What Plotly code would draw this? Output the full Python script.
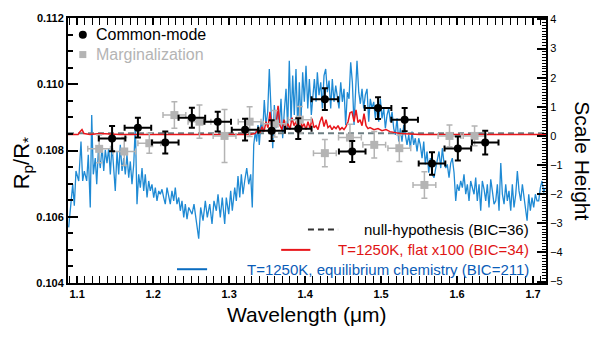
import plotly.graph_objects as go

# --- Binned transit depths: common-mode correction ---
cm_wl = [1.146, 1.180, 1.216, 1.251, 1.285, 1.321, 1.356, 1.391,
         1.426, 1.462, 1.496, 1.531, 1.567, 1.601, 1.637]
cm_rp = [0.10836, 0.10869, 0.10824, 0.10899, 0.10887, 0.10863, 0.10860, 0.10866,
         0.10955, 0.10797, 0.10928, 0.10893, 0.10761, 0.10806, 0.10824]
cm_err = [0.00038, 0.00030, 0.00033, 0.00030, 0.00030, 0.00033, 0.00031, 0.00031,
          0.00033, 0.00032, 0.00033, 0.00035, 0.00034, 0.00036, 0.00036]
cm_bin = [0.0175] * 15

# --- Binned transit depths: marginalization ---
mg_wl = [1.129, 1.162, 1.195, 1.228, 1.261, 1.294, 1.327, 1.360,
         1.393, 1.426, 1.459, 1.491, 1.524, 1.557, 1.590, 1.623]
mg_rp = [0.10805, 0.10797, 0.10822, 0.10907, 0.10887, 0.10844, 0.10887, 0.10881,
         0.10893, 0.10792, 0.10839, 0.10817, 0.10807, 0.10696, 0.10844, 0.10844]
mg_err = [0.00042, 0.00042, 0.00030, 0.00040, 0.00050, 0.00080, 0.00045, 0.00040,
          0.00040, 0.00041, 0.00040, 0.00040, 0.00040, 0.00040, 0.00033, 0.00030]
mg_bin = [0.015] * 16

# --- Null hypothesis (flat spectrum) ---
null_wl = [1.088, 1.717]
null_rp = [0.10852, 0.10852]

# --- T=1250K, flat x100 model ---
flat_wl = [1.0880, 1.1012, 1.1038, 1.1064, 1.1091, 1.1169, 1.1301, 1.1564, 1.1959, 1.2617,
           1.3275, 1.3341, 1.3380, 1.3407, 1.3433, 1.3459, 1.3486, 1.3512, 1.3538, 1.3565,
           1.3591, 1.3617, 1.3644, 1.3670, 1.3696, 1.3723, 1.3749, 1.3775, 1.3801, 1.3828,
           1.3854, 1.3880, 1.3907, 1.3933, 1.3959, 1.3986, 1.4012, 1.4038, 1.4065, 1.4091,
           1.4117, 1.4144, 1.4170, 1.4196, 1.4222, 1.4249, 1.4275, 1.4301, 1.4328, 1.4354,
           1.4380, 1.4407, 1.4433, 1.4459, 1.4486, 1.4512, 1.4538, 1.4565, 1.4591, 1.4617,
           1.4644, 1.4670, 1.4696, 1.4723, 1.4749, 1.4775, 1.4802, 1.4828, 1.4854, 1.4907,
           1.4959, 1.5012, 1.5065, 1.5117, 1.5183, 1.5249, 1.5512, 1.6039, 1.6565, 1.7171]
flat_rp = [0.10848, 0.10848, 0.10857, 0.10863, 0.10851, 0.10848, 0.10851, 0.10848, 0.10848, 0.10848,
           0.10848, 0.10851, 0.10863, 0.10854, 0.10872, 0.10857, 0.10887, 0.10869, 0.10917, 0.10866,
           0.10893, 0.10872, 0.10935, 0.10875, 0.10863, 0.10893, 0.10869, 0.10881, 0.10863, 0.10899,
           0.10875, 0.10887, 0.10866, 0.10905, 0.10869, 0.10881, 0.10863, 0.10887, 0.10866, 0.10896,
           0.10869, 0.10875, 0.10863, 0.10887, 0.10902, 0.10872, 0.10893, 0.10869, 0.10875, 0.10863,
           0.10872, 0.10866, 0.10875, 0.10863, 0.10869, 0.10863, 0.10872, 0.10887, 0.10914, 0.10917,
           0.10887, 0.10923, 0.10884, 0.10893, 0.10875, 0.10911, 0.10875, 0.10866, 0.10869, 0.10863,
           0.10866, 0.10860, 0.10863, 0.10857, 0.10854, 0.10851, 0.10848, 0.10848, 0.10848, 0.10848]

# --- T=1250K, equilibrium chemistry model ---
eq_wl = [1.0889, 1.0942, 1.0963, 1.0985, 1.1021, 1.1051, 1.1073, 1.1095, 1.1126, 1.1147,
         1.1173, 1.1192, 1.1213, 1.1239, 1.1258, 1.1279, 1.1305, 1.1328, 1.1350, 1.1371,
         1.1393, 1.1416, 1.1437, 1.1459, 1.1481, 1.1502, 1.1525, 1.1547, 1.1568, 1.1591,
         1.1613, 1.1634, 1.1656, 1.1679, 1.1700, 1.1722, 1.1745, 1.1766, 1.1788, 1.1810,
         1.1832, 1.1854, 1.1876, 1.1897, 1.1920, 1.1942, 1.1963, 1.1985, 1.2008, 1.2029,
         1.2051, 1.2074, 1.2095, 1.2117, 1.2139, 1.2160, 1.2183, 1.2205, 1.2226, 1.2248,
         1.2271, 1.2292, 1.2314, 1.2337, 1.2358, 1.2380, 1.2403, 1.2424, 1.2446, 1.2469,
         1.2512, 1.2538, 1.2568, 1.2600, 1.2626, 1.2657, 1.2687, 1.2713, 1.2745, 1.2775,
         1.2801, 1.2832, 1.2854, 1.2884, 1.2910, 1.2942, 1.2963, 1.2995, 1.3021, 1.3042,
         1.3074, 1.3095, 1.3117, 1.3140, 1.3161, 1.3183, 1.3205, 1.3232, 1.3258, 1.3284,
         1.3305, 1.3324, 1.3345, 1.3363, 1.3380, 1.3397, 1.3420, 1.3442, 1.3463, 1.3485,
         1.3508, 1.3529, 1.3551, 1.3574, 1.3595, 1.3617, 1.3640, 1.3661, 1.3683, 1.3705,
         1.3726, 1.3749, 1.3771, 1.3792, 1.3815, 1.3837, 1.3858, 1.3880, 1.3903, 1.3924,
         1.3946, 1.3968, 1.3990, 1.4012, 1.4035, 1.4056, 1.4082, 1.4122, 1.4144, 1.4161,
         1.4183, 1.4206, 1.4227, 1.4249, 1.4271, 1.4293, 1.4315, 1.4337, 1.4358, 1.4380,
         1.4403, 1.4424, 1.4446, 1.4469, 1.4490, 1.4512, 1.4534, 1.4556, 1.4578, 1.4600,
         1.4622, 1.4644, 1.4666, 1.4683, 1.4706, 1.4727, 1.4749, 1.4771, 1.4792, 1.4815,
         1.4837, 1.4858, 1.4880, 1.4903, 1.4924, 1.4946, 1.4969, 1.4990, 1.5012, 1.5035,
         1.5056, 1.5078, 1.5100, 1.5122, 1.5144, 1.5166, 1.5187, 1.5210, 1.5232, 1.5253,
         1.5275, 1.5298, 1.5319, 1.5341, 1.5364, 1.5385, 1.5407, 1.5429, 1.5450, 1.5473,
         1.5495, 1.5516, 1.5539, 1.5561, 1.5582, 1.5604, 1.5627, 1.5648, 1.5670, 1.5697,
         1.5719, 1.5740, 1.5762, 1.5785, 1.5806, 1.5828, 1.5851, 1.5871, 1.5894, 1.5916,
         1.5937, 1.5960, 1.5982, 1.6003, 1.6025, 1.6048, 1.6069, 1.6091, 1.6114, 1.6135,
         1.6157, 1.6179, 1.6201, 1.6223, 1.6245, 1.6266, 1.6289, 1.6311, 1.6332, 1.6355,
         1.6377, 1.6398, 1.6420, 1.6443, 1.6464, 1.6486, 1.6509, 1.6530, 1.6552, 1.6575,
         1.6596, 1.6618, 1.6640, 1.6661, 1.6683, 1.6706, 1.6727, 1.6749, 1.6772, 1.6793,
         1.6815, 1.6838, 1.6859, 1.6881, 1.6904, 1.6921, 1.6943, 1.6964, 1.6986, 1.7008,
         1.7030, 1.7052, 1.7074, 1.7096, 1.7118, 1.7140, 1.7161]
eq_rp = [0.10568, 0.10698, 0.10633, 0.10738, 0.10708, 0.10827, 0.10708, 0.10738, 0.10708, 0.10787,
         0.10628, 0.10907, 0.10728, 0.10777, 0.10698, 0.10797, 0.10747, 0.10812, 0.10738, 0.10802,
         0.10762, 0.10807, 0.10728, 0.10817, 0.10747, 0.10678, 0.10797, 0.10728, 0.10817, 0.10738,
         0.10777, 0.10728, 0.10787, 0.10718, 0.10767, 0.10698, 0.10758, 0.10877, 0.10638, 0.10728,
         0.10688, 0.10747, 0.10678, 0.10728, 0.10658, 0.10708, 0.10678, 0.10698, 0.10658, 0.10688,
         0.10648, 0.10678, 0.10668, 0.10683, 0.10658, 0.10638, 0.10688, 0.10658, 0.10638, 0.10678,
         0.10648, 0.10688, 0.10638, 0.10658, 0.10618, 0.10648, 0.10598, 0.10638, 0.10593, 0.10628,
         0.10608, 0.10638, 0.10588, 0.10534, 0.10628, 0.10588, 0.10648, 0.10598, 0.10638, 0.10578,
         0.10648, 0.10618, 0.10668, 0.10598, 0.10658, 0.10578, 0.10658, 0.10608, 0.10678, 0.10618,
         0.10688, 0.10648, 0.10723, 0.10658, 0.10728, 0.10668, 0.10708, 0.10747, 0.10698, 0.10728,
         0.10628, 0.10817, 0.10857, 0.10827, 0.10877, 0.10817, 0.10887, 0.10857, 0.10952, 0.10877,
         0.10917, 0.11046, 0.10927, 0.10807, 0.10937, 0.10867, 0.10927, 0.10877, 0.10956, 0.10837,
         0.10917, 0.10986, 0.10867, 0.11071, 0.10887, 0.11026, 0.10907, 0.11046, 0.10867, 0.11006,
         0.10887, 0.11036, 0.10947, 0.11056, 0.10927, 0.11016, 0.10907, 0.11016, 0.10947, 0.11036,
         0.10967, 0.11006, 0.10927, 0.11026, 0.11046, 0.10976, 0.11011, 0.10927, 0.11016, 0.10947,
         0.10996, 0.10967, 0.10927, 0.11006, 0.10947, 0.10986, 0.10877, 0.10976, 0.10956, 0.11066,
         0.11006, 0.10877, 0.10996, 0.11071, 0.10976, 0.10941, 0.10986, 0.10927, 0.10967, 0.10986,
         0.10887, 0.10956, 0.10927, 0.10947, 0.10897, 0.10937, 0.10887, 0.10956, 0.10897, 0.10927,
         0.10867, 0.10907, 0.10927, 0.10887, 0.10917, 0.10867, 0.10847, 0.10897, 0.10827, 0.10867,
         0.10827, 0.10877, 0.10847, 0.10817, 0.10847, 0.10807, 0.10857, 0.10817, 0.10837, 0.10797,
         0.10837, 0.10817, 0.10777, 0.10827, 0.10758, 0.10797, 0.10733, 0.10777, 0.10728, 0.10718,
         0.10747, 0.10773, 0.10797, 0.10747, 0.10807, 0.10762, 0.10747, 0.10758, 0.10718, 0.10762,
         0.10777, 0.10733, 0.10648, 0.10698, 0.10678, 0.10708, 0.10688, 0.10728, 0.10668, 0.10698,
         0.10648, 0.10708, 0.10683, 0.10668, 0.10718, 0.10648, 0.10698, 0.10618, 0.10708, 0.10683,
         0.10648, 0.10698, 0.10628, 0.10713, 0.10678, 0.10638, 0.10648, 0.10698, 0.10618, 0.10762,
         0.10668, 0.10638, 0.10698, 0.10648, 0.10678, 0.10618, 0.10698, 0.10628, 0.10668, 0.10738,
         0.10678, 0.10648, 0.10698, 0.10658, 0.10608, 0.10588, 0.10668, 0.10618, 0.10658, 0.10628,
         0.10668, 0.10648, 0.10648, 0.10688, 0.10708, 0.10673, 0.10688]

# Axis ranges
wl_range = [1.088, 1.717]
rp_range = [0.104, 0.112]
sh_range = [-5.05, 4.05]

FONT = "Liberation Sans, Arial, Helvetica, sans-serif"
BLUE = "#1f8ad4"
RED = "#e8161b"
GREY = "#b4b4b4"

fig = go.Figure()

fig.add_trace(go.Scatter(x=eq_wl, y=eq_rp, mode="lines",
                         line=dict(color=BLUE, width=1.3), hoverinfo="skip"))
fig.add_trace(go.Scatter(x=null_wl, y=null_rp, mode="lines",
                         line=dict(color="#6d7f84", width=2, dash="6px,4px"), hoverinfo="skip"))
fig.add_trace(go.Scatter(x=flat_wl, y=flat_rp, mode="lines",
                         line=dict(color=RED, width=1.5), hoverinfo="skip"))

fig.add_trace(go.Scatter(
    x=mg_wl, y=mg_rp, mode="markers",
    marker=dict(symbol="square", size=8, color=GREY),
    error_y=dict(type="data", array=mg_err, color=GREY, thickness=1.5, width=3),
    error_x=dict(type="data", array=mg_bin, color=GREY, thickness=1.5, width=3),
))
fig.add_trace(go.Scatter(
    x=cm_wl, y=cm_rp, mode="markers",
    marker=dict(symbol="circle", size=8, color="black"),
    error_y=dict(type="data", array=cm_err, color="black", thickness=2, width=3),
    error_x=dict(type="data", array=cm_bin, color="black", thickness=2, width=3),
))

# Invisible trace that activates the scale-height axis
fig.add_trace(go.Scatter(x=wl_range, y=sh_range, yaxis="y2", mode="lines",
                         line=dict(width=0), opacity=0, hoverinfo="skip"))

tickfont = dict(family=FONT, size=11, color="black", weight="bold")

fig.update_layout(
    width=600, height=337,
    margin=dict(l=68, r=54, t=15, b=54),
    paper_bgcolor="white", plot_bgcolor="white",
    showlegend=False,
    xaxis=dict(
        range=wl_range, dtick=0.1, tickformat=".1f",
        showgrid=False, zeroline=False,
        showline=True, linecolor="black", linewidth=2, mirror="allticks",
        ticks="inside", ticklen=7, tickwidth=1.5, tickcolor="black",
        minor=dict(ticks="inside", dtick=0.01, ticklen=3, tickcolor="black", tickwidth=1),
        tickfont=tickfont,
    ),
    yaxis=dict(
        range=rp_range, dtick=0.002, tickformat=".3f",
        showgrid=False, zeroline=False,
        showline=True, linecolor="black", linewidth=2,
        ticks="inside", ticklen=10, tickwidth=1.5, tickcolor="black",
        minor=dict(ticks="inside", dtick=0.0005, ticklen=5, tickcolor="black", tickwidth=1.5),
        tickfont=tickfont,
    ),
    yaxis2=dict(
        range=sh_range, overlaying="y", side="right", dtick=1,
        showgrid=False, zeroline=False,
        showline=True, linecolor="black", linewidth=2,
        ticks="inside", ticklen=9, tickwidth=1.5, tickcolor="black",
        minor=dict(ticks="inside", dtick=0.1, ticklen=4, tickcolor="black", tickwidth=1),
        tickfont=dict(family=FONT, size=11, color="black"),
    ),
)

# Axis titles
fig.add_annotation(text="R<sub>p</sub>/R<sub>*</sub>", xref="paper", yref="paper",
                   x=-0.095, y=0.45, xanchor="center", yanchor="middle",
                   textangle=-90, showarrow=False,
                   font=dict(family=FONT, size=22, color="black"))
fig.add_annotation(text="Scale Height", xref="paper", yref="paper",
                   x=1.077, y=0.46, xanchor="center", yanchor="middle",
                   textangle=90, showarrow=False,
                   font=dict(family=FONT, size=21, color="black"))
fig.add_annotation(text="Wavelength (μm)", xref="paper", yref="paper",
                   x=0.5, y=-0.118, xanchor="center", yanchor="middle", showarrow=False,
                   font=dict(family=FONT, size=21, color="black"))

# Data legend (top left)
fig.add_shape(type="circle", xref="paper", yref="paper", xsizemode="pixel", ysizemode="pixel",
              xanchor=0.031, yanchor=0.9366, x0=-4, x1=4, y0=-4, y1=4,
              fillcolor="black", line=dict(color="black", width=0))
fig.add_shape(type="rect", xref="paper", yref="paper", xsizemode="pixel", ysizemode="pixel",
              xanchor=0.031, yanchor=0.862, x0=-3.5, x1=3.5, y0=-3.5, y1=3.5,
              fillcolor=GREY, line=dict(color=GREY, width=0))
fig.add_annotation(text="Common-mode", xref="paper", yref="paper", x=0.055, y=0.9366,
                   xanchor="left", yanchor="middle", showarrow=False,
                   font=dict(family=FONT, size=16, color="black"))
fig.add_annotation(text="Marginalization", xref="paper", yref="paper", x=0.055, y=0.862,
                   xanchor="left", yanchor="middle", showarrow=False,
                   font=dict(family=FONT, size=16, color=GREY))

# Model legend (bottom right)
model_legend = [
    ("null-hypothesis (BIC=36)", "black", "#333333", "6px,4px", 0.502, 0.565, 0.2015),
    ("T=1250K, flat x100 (BIC=34)", "#e01515", RED, "solid", 0.446, 0.507, 0.125),
    ("T=1250K, equilibrium chemistry (BIC=211)", "#0a5cb8", "#0a6cc0", "solid", 0.228, 0.291, 0.052),
]
for label, tcolor, lcolor, dash, lx0, lx1, ly in model_legend:
    fig.add_shape(type="line", xref="paper", yref="paper", x0=lx0, x1=lx1, y0=ly, y1=ly,
                  line=dict(color=lcolor, width=2, dash=dash))
    fig.add_annotation(text=label, xref="paper", yref="paper", x=0.968, y=ly,
                       xanchor="right", yanchor="middle", showarrow=False,
                       font=dict(family=FONT, size=15, color=tcolor))

fig.write_html("out.html")
